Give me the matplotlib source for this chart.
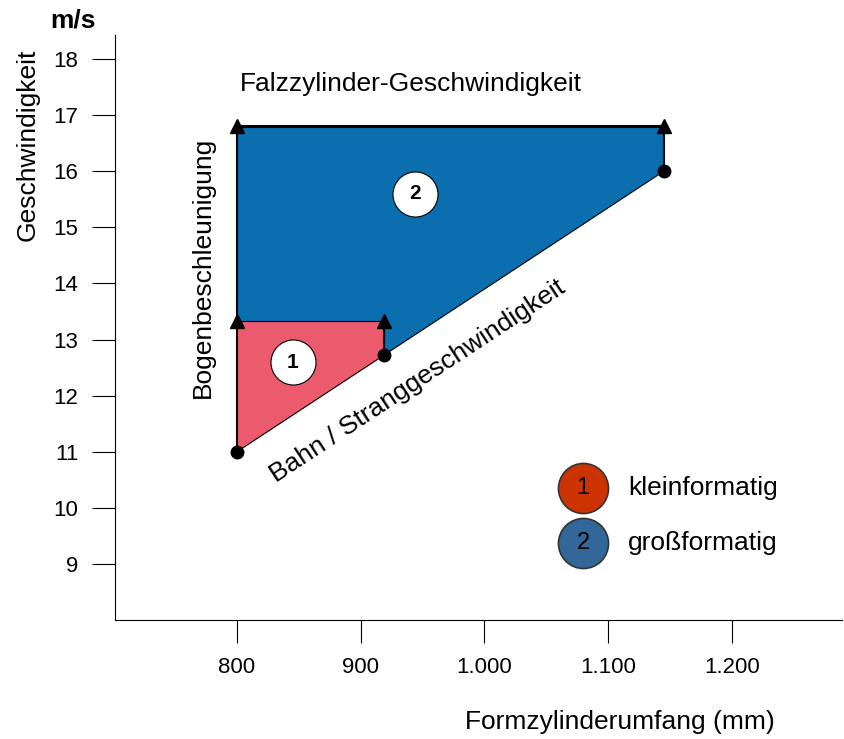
import matplotlib.pyplot as plt

plt.rcParams['font.family'] = ['Liberation Sans', 'DejaVu Sans']

# Formzylinderumfang (mm) und Geschwindigkeiten (m/s)
x_small_start = 800
x_small_end = 919
x_large_end = 1145
v_web_start = 11.0
v_web_mid = 12.72
v_web_end = 16.0
v_small_top = 13.33
v_large_top = 16.8

x_ticks = [800, 900, 1000, 1100, 1200]
x_labels = ["800", "900", "1.000", "1.100", "1.200"]
y_ticks = [9, 10, 11, 12, 13, 14, 15, 16, 17, 18]

legend_numbers = ["1", "2"]
legend_labels = ["kleinformatig", "großformatig"]
legend_colors = ["#cc3300", "#336699"]

red_fill = "#ec5a6e"
blue_fill = "#0a6eaf"

fig = plt.figure(figsize=(8.44, 7.39), dpi=100)
ax = fig.add_axes([0.1363, 0.161, 0.861, 0.7916])

# area 2 (großformatig)
ax.fill([x_small_start, x_small_end, x_small_end, x_large_end, x_large_end, x_small_start],
        [v_small_top, v_small_top, v_web_mid, v_web_end, v_large_top, v_large_top],
        color=blue_fill, lw=0, zorder=1)
# area 1 (kleinformatig)
ax.fill([x_small_start, x_small_end, x_small_end, x_small_start],
        [v_web_start, v_web_mid, v_small_top, v_small_top],
        color=red_fill, lw=0, zorder=2)

# outlines
ax.plot([x_small_start, x_large_end], [v_web_start, v_web_end], color="black", lw=0.8, zorder=3)
ax.plot([x_small_start, x_small_end], [v_small_top, v_small_top], color="black", lw=0.8, zorder=3)
ax.plot([x_small_start, x_large_end], [v_large_top, v_large_top], color="black", lw=2.2, zorder=3)
ax.plot([x_small_start, x_small_start], [v_web_start, v_large_top], color="black", lw=1.5, zorder=3)
ax.plot([x_small_end, x_small_end], [v_web_mid, v_small_top], color="black", lw=1.5, zorder=3)
ax.plot([x_large_end, x_large_end], [v_web_end, v_large_top], color="black", lw=1.5, zorder=3)

# arrow heads and points
ax.plot([x_small_start, x_small_end, x_small_start, x_large_end],
        [v_small_top, v_small_top, v_large_top, v_large_top],
        ls="none", marker="^", ms=10, color="black", zorder=4)
ax.plot([x_small_start, x_small_end, x_large_end],
        [v_web_start, v_web_mid, v_web_end],
        ls="none", marker="o", ms=9, color="black", zorder=4)

# numbered circles in the areas
for xc, yc, num in [(845, 12.6, "1"), (944, 15.6, "2")]:
    ax.scatter([xc], [yc], s=1050, color="white", edgecolors="black", linewidths=0.8, zorder=5)
    ax.text(xc, yc, num, ha="center", va="center", fontsize=15, fontweight="bold", zorder=6)

# annotations
ax.text(0.172, 0.916, "Falzzylinder-Geschwindigkeit", transform=ax.transAxes,
        fontsize=19, ha="left", va="center")
ax.text(0.121, 0.602, "Bogenbeschleunigung", transform=ax.transAxes,
        fontsize=19, rotation=90, ha="center", va="center")
ax.text(946, 12.25, "Bahn / Stranggeschwindigkeit", fontsize=19,
        rotation=33.4, rotation_mode="anchor", ha="center", va="center")

# legend
for i, (num, lab, col) in enumerate(zip(legend_numbers, legend_labels, legend_colors)):
    yy = 0.2256 - i * 0.094
    ax.scatter([0.644], [yy], s=1300, color=col, edgecolors="#333333", linewidths=1.2,
               transform=ax.transAxes, zorder=5, clip_on=False)
    ax.text(0.644, yy, num, transform=ax.transAxes, ha="center", va="center",
            fontsize=17, zorder=6)
    ax.text(0.706, yy, lab, transform=ax.transAxes, ha="left", va="center", fontsize=19)

ax.set_xlim(701.4, 1289)
ax.set_ylim(8.0, 18.43)
ax.set_xticks(x_ticks)
ax.set_xticklabels(x_labels)
ax.set_yticks(y_ticks)
ax.tick_params(axis="both", direction="out", length=16.5, width=0.8, pad=10, labelsize=16)

for side in ["top", "right"]:
    ax.spines[side].set_visible(False)
for side in ["left", "bottom"]:
    ax.spines[side].set_linewidth(0.8)

fig.text(0.0332, 0.8037, "Geschwindigkeit", rotation=90, fontsize=19, ha="center", va="center")
fig.text(0.086, 0.972, "m/s", fontsize=19, fontweight="bold", ha="center", va="center")
fig.text(0.7345, 0.023, "Formzylinderumfang (mm)", fontsize=19, ha="center", va="center")

fig.savefig("out.png", dpi=100)
